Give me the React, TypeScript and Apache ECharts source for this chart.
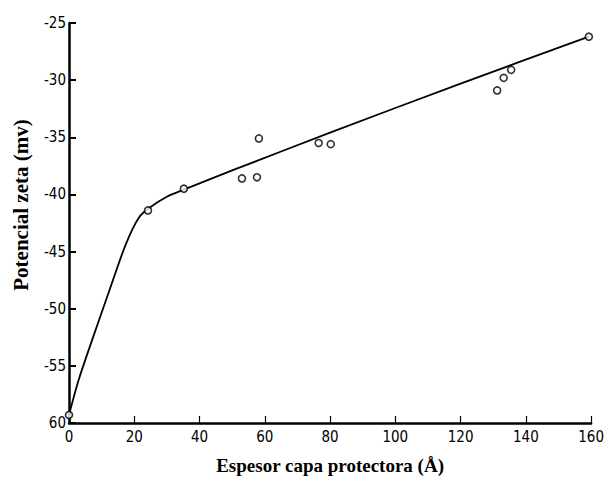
import React, { useEffect, useRef } from "react";
import * as echarts from "echarts";

// Measured data points (thickness Å, zeta potential mV)
const pointX = [0, 24.2, 35.2, 53, 57.6, 58.2, 76.5, 80.2, 131.2, 133.2, 135.5, 159.3];
const pointY = [-59.3, -41.4, -39.5, -38.6, -38.5, -35.1, -35.5, -35.6, -30.9, -29.8, -29.1, -26.2];

// Fitted curve
const curveX = [0, 3, 7.5, 12.5, 17.5, 21.5, 25, 30, 35, 50, 80, 120, 159.3];
const curveY = [-59.3, -56.2, -52.4, -48.3, -44.3, -42.0, -41.1, -40.2, -39.6, -37.9, -34.6, -30.3, -26.2];

const yTickValues = [-60, -55, -50, -45, -40, -35, -30, -25];
const yTickLabels = ["60", "-55", "-50", "-45", "-40", "-35", "-30", "-25"];

const xName = "Espesor capa protectora (Å)";
const yName = "Potencial zeta (mv)";

const labelFont = "'DejaVu Sans Condensed', 'Liberation Sans Narrow', 'Roboto Condensed', 'DejaVu Sans', sans-serif";
const nameFont = "'Liberation Serif', 'DejaVu Serif', serif";

export default function App() {
  const ref = useRef<HTMLDivElement>(null);
  useEffect(() => {
    if (!ref.current) return;
    const chart = echarts.init(ref.current, null, { renderer: "svg" });
    chart.setOption({
      animation: false,
      backgroundColor: "#ffffff",
      grid: { left: 69, right: 9, top: 23, bottom: 68, containLabel: false },
      xAxis: {
        type: "value",
        min: 0,
        max: 160,
        interval: 20,
        name: xName,
        nameLocation: "middle",
        nameGap: 33,
        nameTextStyle: { fontFamily: nameFont, fontWeight: "bold", fontSize: 19, color: "#000" },
        axisLine: { show: true, onZero: false, lineStyle: { color: "#000", width: 2.5 } },
        axisTick: { show: true, inside: true, length: 7, lineStyle: { color: "#000", width: 1.2 } },
        axisLabel: { color: "#000", fontFamily: labelFont, fontSize: 15, margin: 6 },
        splitLine: { show: false },
      },
      yAxis: {
        type: "value",
        min: -60,
        max: -25,
        interval: 5,
        axisLine: { show: true, onZero: false, lineStyle: { color: "#000", width: 2.5 } },
        axisTick: { show: true, inside: true, length: 7, lineStyle: { color: "#000", width: 2 } },
        axisLabel: {
          color: "#000",
          fontFamily: labelFont,
          fontSize: 15,
          margin: 3,
          formatter: (v: number) => {
            const i = yTickValues.indexOf(v);
            return i >= 0 ? yTickLabels[i] : String(v);
          },
        },
        splitLine: { show: false },
      },
      graphic: [
        {
          type: "text",
          x: 21,
          y: 205,
          rotation: Math.PI / 2,
          style: {
            text: yName,
            font: `bold 21px ${nameFont}`,
            fill: "#000",
            align: "center",
            verticalAlign: "middle",
          },
        },
      ],
      series: [
        {
          type: "line",
          data: curveX.map((x, i) => [x, curveY[i]]),
          smooth: 0.3,
          showSymbol: false,
          lineStyle: { color: "#000", width: 1.8 },
          z: 2,
        },
        {
          type: "scatter",
          data: pointX.map((x, i) => [x, pointY[i]]),
          symbol: "circle",
          symbolSize: 7,
          itemStyle: { color: "#fff", borderColor: "#000", borderWidth: 1.6 },
          z: 3,
        },
      ],
    });
    return () => chart.dispose();
  }, []);
  return <div ref={ref} style={{ width: 607, height: 491, position: "absolute", left: 0, top: 0 }} />;
}
